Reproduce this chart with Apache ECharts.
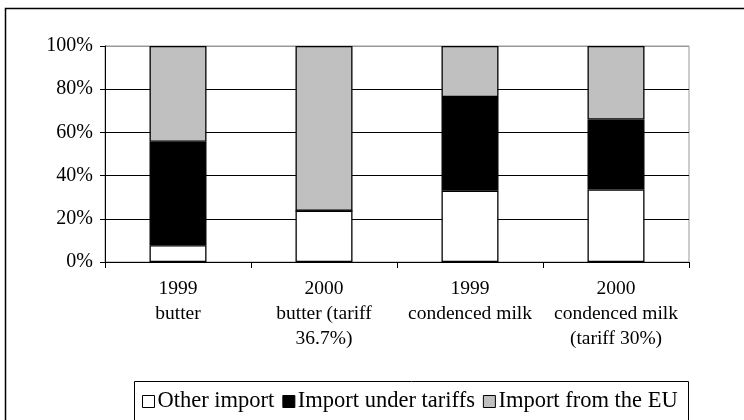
<!DOCTYPE html>
<html>
<head>
<meta charset="utf-8">
<script src="https://cdn.jsdelivr.net/npm/echarts@6/dist/echarts.min.js"></script>
<style>
  html, body { margin: 0; padding: 0; background: #fff; }
  #chart { width: 744px; height: 420px; }
</style>
</head>
<body>
<div id="chart"></div>
<script>
// Share of imports by origin, per product and year (percent of total)
const categories = [
  '1999\nbutter',
  '2000\nbutter (tariff\n36.7%)',
  '1999\ncondenced milk',
  '2000\ncondenced milk\n(tariff 30%)'
];
const otherImport = [7.8, 23.7, 33.0, 33.6];
const importUnderTariffs = [47.9, 0, 43.4, 32.4];
const importFromEU = [44.3, 76.3, 23.6, 34.0];
const yTicks = [0, 20, 40, 60, 80, 100];

const FONT = '"Liberation Serif", "Times New Roman", serif';

const chart = echarts.init(document.getElementById('chart'), null, { renderer: 'canvas' });

function barSeries(name, data, color) {
  return {
    name: name,
    type: 'bar',
    stack: 'share',
    data: data,
    barWidth: 57,
    itemStyle: { color: color, borderColor: '#000', borderWidth: 1.3 },
    emphasis: { disabled: true },
    animation: false
  };
}

chart.setOption({
  animation: false,
  backgroundColor: '#fff',
  textStyle: { fontFamily: FONT, color: '#000' },
  grid: {
    left: 105, right: 55, top: 46, bottom: 158,
    show: true, borderColor: '#999', borderWidth: 1
  },
  xAxis: {
    type: 'category',
    data: categories,
    axisLine: { lineStyle: { color: '#000', width: 1 } },
    axisTick: { show: true, alignWithLabel: false, length: 6, lineStyle: { color: '#000' } },
    axisLabel: {
      fontFamily: FONT, fontSize: 19.5, color: '#000',
      lineHeight: 25, margin: 14, interval: 0
    }
  },
  yAxis: {
    type: 'value',
    min: yTicks[0],
    max: yTicks[yTicks.length - 1],
    interval: yTicks[1] - yTicks[0],
    axisLine: { show: true, lineStyle: { color: '#000', width: 1 } },
    axisTick: { show: true, length: 5, lineStyle: { color: '#000' } },
    axisLabel: {
      fontFamily: FONT, fontSize: 20, color: '#000', margin: 12,
      formatter: '{value}%'
    },
    splitLine: {
      show: true,
      lineStyle: { color: ['#000', '#000', '#000', '#000', '#000', '#999'], width: 1 }
    }
  },
  legend: {
    left: 142,
    top: 390,
    icon: 'rect',
    itemWidth: 12,
    itemHeight: 12,
    itemGap: 8,
    padding: 0,
    selectedMode: false,
    textStyle: { fontFamily: FONT, fontSize: 22.5, color: '#000', padding: [0, 0, 0, -2] },
    itemStyle: { borderColor: '#000', borderWidth: 1 },
    data: ['Other import', 'Import under tariffs', 'Import from the EU']
  },
  graphic: [
    {
      type: 'rect', silent: true, z: -1,
      shape: { x: 5.5, y: 8.5, width: 760, height: 430 },
      style: { fill: 'none', stroke: '#000', lineWidth: 1.5 }
    },
    {
      type: 'rect', silent: true, z: -1,
      shape: { x: 134.5, y: 381.5, width: 554, height: 60 },
      style: { fill: 'none', stroke: '#000', lineWidth: 1 }
    }
  ],
  series: [
    barSeries('Other import', otherImport, '#ffffff'),
    barSeries('Import under tariffs', importUnderTariffs, '#000000'),
    barSeries('Import from the EU', importFromEU, '#c0c0c0')
  ]
});
</script>
</body>
</html>
